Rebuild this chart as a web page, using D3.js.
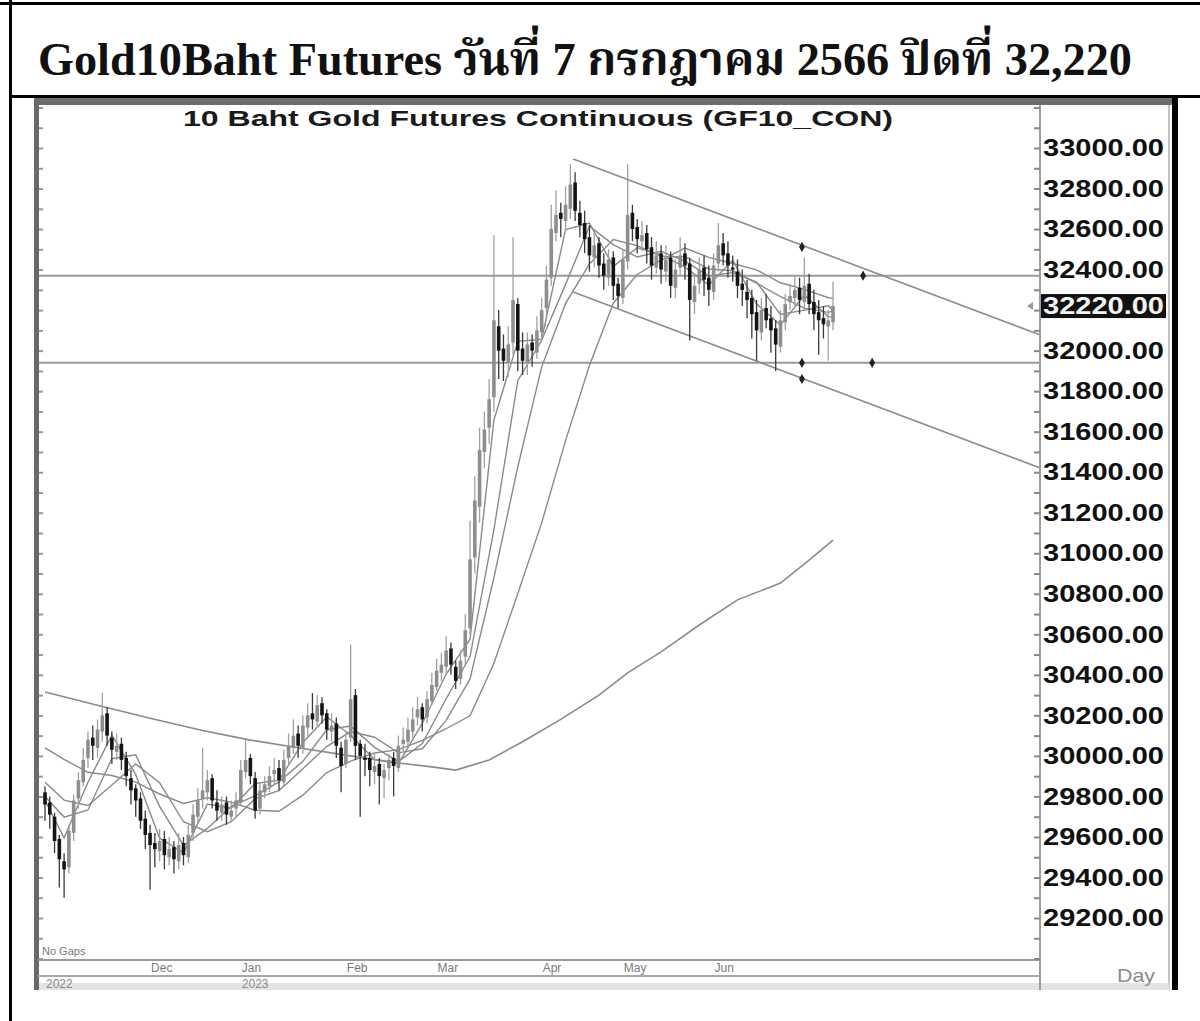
<!DOCTYPE html>
<html><head><meta charset="utf-8">
<script src="https://cdn.jsdelivr.net/npm/d3@7"></script>
<style>html,body{margin:0;padding:0;background:#fff;} svg{display:block}</style>
</head><body>
<script>
const titleText = "Gold10Baht Futures วันที่ 7 กรกฎาคม 2566 ปิดที่ 32,220";
const chartTitle = "10 Baht Gold Futures Continuous (GF10_CON)";

const closes = [29760,29710,29580,29490,29440,29630,29780,29880,29980,30080,
30050,30130,30200,30100,30030,30050,29980,29900,29830,29780,
29680,29610,29560,29540,29580,29510,29540,29490,29560,29510,
29610,29710,29780,29830,29880,29780,29730,29760,29710,29730,
29780,29930,29980,29900,29730,29830,29860,29900,29930,29880,
29980,30050,30100,30050,30150,30200,30180,30250,30200,30130,
30150,30050,29950,30080,30280,30050,30000,29980,29930,29950,
29900,29930,29980,29950,30050,30080,30130,30180,30230,30180,
30280,30350,30420,30450,30520,30450,30370,30470,30620,30970,
31260,31510,31610,31760,32150,32000,31950,32030,32250,32000,
31950,32030,32000,32100,32200,32350,32600,32670,32650,32720,
32820,32690,32620,32550,32470,32520,32420,32370,32450,32320,
32270,32450,32670,32600,32550,32570,32500,32420,32470,32400,
32450,32320,32400,32470,32420,32250,32320,32400,32350,32300,
32420,32520,32470,32420,32400,32320,32300,32250,32180,32100,
32200,32150,32100,32030,32150,32230,32270,32300,32250,32320,
32230,32180,32150,32130,32150,32220];

const opens = [29820,29770,29700,29590,29480,29450,29620,29790,29870,29990,
30090,30040,30120,30210,30090,30020,30060,29990,29890,29840,
29790,29690,29620,29570,29530,29590,29500,29550,29480,29570,
29500,29620,29700,29790,29820,29890,29770,29720,29770,29700,
29740,29770,29920,29990,29890,29740,29820,29850,29910,29940,
29870,29990,30040,30110,30040,30140,30210,30170,30260,30210,
30120,30160,30040,29960,30090,30300,30060,29990,29990,29920,
29960,29890,29940,29990,29940,30060,30070,30120,30190,30240,
30190,30270,30340,30410,30440,30530,30440,30380,30490,30630,
30980,31230,31500,31620,31770,32120,32010,31940,32040,32230,
32010,31940,32040,31990,32090,32210,32360,32580,32680,32640,
32700,32830,32680,32630,32560,32460,32530,32430,32360,32460,
32330,32260,32440,32680,32610,32540,32580,32510,32410,32480,
32390,32460,32310,32410,32480,32430,32240,32330,32410,32360,
32290,32430,32530,32480,32410,32390,32330,32290,32260,32190,
32090,32210,32160,32110,32020,32140,32240,32260,32310,32240,
32330,32240,32190,32160,32120,32140];

const highs = [29850,29800,29720,29610,29520,29660,29810,29920,30040,30120,
30150,30180,30310,30240,30120,30110,30090,30020,29930,29860,
29820,29730,29660,29620,29640,29630,29600,29580,29620,29600,
29660,29760,29840,30040,29930,29910,29830,29800,29800,29780,
29820,29980,30080,30010,29920,29870,29900,29950,29990,29980,
30030,30110,30180,30150,30200,30260,30310,30300,30290,30230,
30210,30190,30070,30120,30550,30330,30080,30060,30020,30010,
29990,29960,30010,30020,30100,30140,30190,30240,30290,30260,
30320,30410,30480,30510,30590,30560,30470,30520,30700,31160,
31380,31620,31700,31860,32570,32200,32080,32120,32560,32260,
32090,32090,32080,32170,32260,32420,32720,32790,32730,32810,
32920,32880,32740,32690,32620,32590,32560,32480,32500,32490,
32360,32500,32920,32720,32650,32640,32620,32560,32540,32520,
32520,32490,32450,32560,32530,32460,32380,32460,32470,32420,
32480,32630,32580,32540,32470,32450,32400,32350,32300,32250,
32260,32280,32220,32150,32200,32280,32330,32370,32360,32460,
32380,32300,32250,32220,32200,32340];

const lows = [29680,29640,29520,29350,29300,29420,29580,29740,29850,29940,
29980,29990,30070,30050,29960,29980,29930,29850,29760,29700,
29640,29540,29340,29450,29480,29440,29460,29420,29440,29460,
29470,29580,29660,29740,29780,29740,29680,29680,29660,29680,
29700,29750,29890,29860,29690,29710,29790,29820,29860,29830,
29850,29960,30010,29990,30010,30100,30130,30140,30160,30080,
30070,29990,29820,29940,30070,29980,29700,29900,29850,29860,
29760,29790,29880,29800,29920,30020,30050,30090,30150,30120,
30160,30250,30320,30370,30410,30400,30330,30350,30450,30600,
30900,31150,31420,31540,31700,31860,31850,31870,31980,31900,
31880,31880,31920,31960,32050,32150,32320,32540,32560,32590,
32650,32640,32560,32480,32390,32410,32360,32300,32320,32250,
32210,32230,32400,32540,32480,32490,32430,32350,32380,32330,
32340,32260,32260,32370,32350,32050,32180,32280,32270,32220,
32250,32390,32420,32360,32340,32260,32220,32160,32060,31950,
32050,32110,31990,31900,31990,32100,32200,32220,32180,32200,
32180,32100,31980,32060,31950,32100];

const maIdx = [0,4,9,14,19,24,29,34,39,44,49,54,59,64,69,74,79,84,89,94,99,104,109,114,119,124,129,134,139,144,149,154,159,164,165];
const ma5 = [29780,29596,29870,30102,29908,29594,29522,29762,29742,29864,29880,30066,30192,30102,29982,29962,30160,30404,30576,31658,32046,32056,32598,32630,32416,32508,32472,32412,32324,32446,32230,32126,32274,32168,32166];
const ma10 = [29800,29698,29733,29986,30005,29751,29558,29642,29752,29803,29872,29973,30129,30147,30042,29972,30061,30282,30490,31117,31852,32051,32327,32614,32523,32462,32490,32442,32368,32385,32338,32178,32200,32221,32200];
const ma15 = [29870,29782,29755,29856,29960,29868,29675,29626,29675,29789,29829,29937,30046,30120,30092,30015,30035,30175,30380,30879,31427,31920,32233,32428,32548,32518,32465,32464,32403,32394,32333,32267,32210,32189,32195];
const ma30 = [30040,29983,29919,29903,29871,29812,29765,29793,29772,29732,29727,29806,29918,29974,30014,30031,30077,30134,30198,30457,30801,31150,31556,31927,32234,32376,32447,32506,32460,32430,32399,32335,32302,32261,32258];
const maLongIdx = [0,11,22,33,43,53,64,74,81,86,93,100,108,116,122,129,137,145,154,160,165];
const maLong = [30315,30250,30186,30125,30078,30040,30000,29965,29946,29930,29980,30070,30180,30300,30410,30513,30646,30770,30853,30966,31065];

const yTicks = [33000,32800,32600,32400,32000,31800,31600,31400,31200,31000,30800,30600,30400,30200,30000,29800,29600,29400,29200];
const lastPrice = 32220;
const monthLabels = ["Dec","Jan","Feb","Mar","Apr","May","Jun"];
const monthIdx = [22,41,63,82,104,121,140];
const yearLabels = ["2022","2023"];
const yearIdx = [0,41];
const levels = [32370, 31940];
const channelUpper = [[110.6,32946],[208.4,32077]];
const channelLower = [[110.6,32289],[208.4,31421]];
const pivots = [[158.5,32512],[171.3,32370],[158.5,31940],[173.2,31940],[158.5,31860]];

const W = 1200, H = 1021;
const plot = {l:38, r:1040, t:105, b:960};

const svg = d3.select("body").append("svg").attr("width", W).attr("height", H)
  .style("font-family", "Arial, 'Liberation Sans', sans-serif");
svg.append("rect").attr("width", W).attr("height", H).attr("fill", "#fff");

const x = d3.scaleLinear().domain([0, 165]).range([45, 833]);
const y = d3.scaleLinear().domain([33000, 29200]).range([148, 918]);

// frame
svg.append("rect").attr("x", 0).attr("y", 2).attr("width", W).attr("height", 3).attr("fill", "#000");
svg.append("rect").attr("x", 9).attr("y", 0).attr("width", 3).attr("height", H).attr("fill", "#000");
svg.append("rect").attr("x", 9).attr("y", 95).attr("width", W - 9).attr("height", 3).attr("fill", "#000");

// title
svg.append("text").attr("x", 38).attr("y", 75)
  .attr("font-family", "'Liberation Serif', 'Times New Roman', 'Noto Serif Thai', serif")
  .attr("font-weight", "bold").attr("font-size", 47)
  .attr("textLength", 1094).attr("lengthAdjust", "spacingAndGlyphs")
  .attr("fill", "#111").text(titleText);

// chart panel
svg.append("rect").attr("x", 34).attr("y", 98).attr("width", 1138).attr("height", 7).attr("fill", "#6e6e6e");
svg.append("rect").attr("x", 34).attr("y", 98).attr("width", 5).attr("height", 892).attr("fill", "#6a6a6a");
svg.append("rect").attr("x", 1172).attr("y", 97).attr("width", 6).attr("height", 893).attr("fill", "#000");
svg.append("line").attr("x1", 1169).attr("x2", 1169).attr("y1", 105).attr("y2", 990).attr("stroke", "#c4c4c4").attr("stroke-width", 2);
svg.append("rect").attr("x", 39).attr("y", 983).attr("width", 1130).attr("height", 7).attr("fill", "#e4e4e4");

svg.append("text").attr("x", 538).attr("y", 126).attr("text-anchor", "middle")
  .attr("font-weight", "bold").attr("font-size", 22).attr("fill", "#1a1a1a")
  .attr("textLength", 710).attr("lengthAdjust", "spacingAndGlyphs").text(chartTitle);

// clip
svg.append("clipPath").attr("id", "clip").append("rect")
  .attr("x", plot.l + 1).attr("y", plot.t).attr("width", plot.r - plot.l - 1).attr("height", plot.b - plot.t);
const g = svg.append("g").attr("clip-path", "url(#clip)");

// horizontal levels
g.selectAll(".lvl").data(levels).join("line")
  .attr("x1", plot.l).attr("x2", plot.r).attr("y1", d => y(d)).attr("y2", d => y(d))
  .attr("stroke", "#9a9a9a").attr("stroke-width", 2);

// channel lines
const lineXY = d3.line().x(d => x(d[0])).y(d => y(d[1]));
[channelUpper, channelLower].forEach(c => {
  g.append("path").attr("d", lineXY(c)).attr("fill", "none").attr("stroke", "#8c8c8c").attr("stroke-width", 1.6);
});

// moving averages
const maLine = d3.line().x(d => x(d[0])).y(d => y(d[1]));
[ma30, ma15, ma10, ma5].forEach((s, k) => {
  g.append("path").attr("d", maLine(maIdx.map((d, i) => [d, s[i]])))
    .attr("fill", "none").attr("stroke", "#8a8a8a").attr("stroke-width", 1.4);
});
g.append("path").attr("d", maLine(maLongIdx.map((d, i) => [d, maLong[i]])))
  .attr("fill", "none").attr("stroke", "#8a8a8a").attr("stroke-width", 1.6);

// candles
const bars = closes.map((c, i) => ({i, o: opens[i], h: highs[i], l: lows[i], c}));
const bw = 3.6;
g.selectAll(".wick").data(bars).join("line")
  .attr("x1", d => x(d.i)).attr("x2", d => x(d.i))
  .attr("y1", d => y(d.h)).attr("y2", d => y(d.l))
  .attr("stroke", d => d.c >= d.o ? "#a0a0a0" : "#3a3a3a").attr("stroke-width", 1.3);
g.selectAll(".body").data(bars).join("rect")
  .attr("x", d => x(d.i) - bw / 2).attr("width", bw)
  .attr("y", d => y(Math.max(d.o, d.c)))
  .attr("height", d => Math.max(1.5, Math.abs(y(d.o) - y(d.c))))
  .attr("fill", d => d.c >= d.o ? "#8e8e8e" : "#141414");

// pivot markers
g.selectAll(".pv").data(pivots).join("path")
  .attr("transform", d => `translate(${x(d[0])},${y(d[1])})`)
  .attr("d", d3.symbol(d3.symbolDiamond, 30)).attr("fill", "#222");

// last price marker
svg.append("path").attr("d", `M${1027},${y(lastPrice)} l6,-4 l0,8 z`).attr("fill", "#999");

// bottom lines
svg.append("line").attr("x1", plot.l).attr("x2", plot.r).attr("y1", 960).attr("y2", 960).attr("stroke", "#9a9a9a").attr("stroke-width", 2);
svg.append("line").attr("x1", plot.l).attr("x2", plot.r).attr("y1", 976).attr("y2", 976).attr("stroke", "#a8a8a8").attr("stroke-width", 2);
svg.append("line").attr("x1", plot.r).attr("x2", plot.r).attr("y1", plot.t).attr("y2", 990).attr("stroke", "#9c9c9c").attr("stroke-width", 2);

svg.append("text").attr("x", 42).attr("y", 955).attr("font-size", 11).attr("fill", "#777").text("No Gaps");

svg.selectAll(".mon").data(monthLabels).join("text")
  .attr("x", (d, i) => x(monthIdx[i]) + 1).attr("y", 972)
  .attr("font-size", 12).attr("fill", "#7a7a7a").text(d => d);
svg.selectAll(".yr").data(yearLabels).join("text")
  .attr("x", (d, i) => x(yearIdx[i]) + 1).attr("y", 988)
  .attr("font-size", 12).attr("fill", "#8a8a8a").text(d => d);
svg.append("text").attr("x", 1117).attr("y", 982).attr("font-size", 19).attr("fill", "#8a8a8a")
  .attr("textLength", 38).attr("lengthAdjust", "spacingAndGlyphs").text("Day");

// minor ticks on axis and left border
const minor = d3.range(29000, 33201, 100);
const axMinor = d3.axisLeft(y).tickValues(minor).tickSize(6).tickFormat("");
const ga = svg.append("g").attr("transform", `translate(${plot.r},0)`).call(axMinor);
ga.select(".domain").remove();
ga.selectAll("line").attr("stroke", "#888").attr("stroke-width", 2);
const axLeft = d3.axisRight(y).tickValues(minor).tickSize(4).tickFormat("");
const gl = svg.append("g").attr("transform", `translate(39,0)`).call(axLeft);
gl.select(".domain").remove();
gl.selectAll("line").attr("stroke", "#999").attr("stroke-width", 2);

// price labels
const ay = d3.axisRight(y).tickValues(yTicks).tickSize(0).tickPadding(0).tickFormat(d3.format(".2f"));
const gy = svg.append("g").attr("transform", `translate(1043,0)`).call(ay);
gy.select(".domain").remove();
gy.selectAll("text").attr("font-size", 24).attr("font-weight", "bold").attr("fill", "#111")
  .attr("font-family", "Arial, 'Liberation Sans', sans-serif")
  .attr("textLength", 121).attr("lengthAdjust", "spacingAndGlyphs");

// last price box
svg.append("rect").attr("x", 1041).attr("y", y(lastPrice) - 12).attr("width", 125).attr("height", 24).attr("fill", "#111");
svg.append("text").attr("x", 1043).attr("y", y(lastPrice)).attr("dy", "0.35em")
  .attr("font-size", 24).attr("font-weight", "bold").attr("fill", "#f2f2f2")
  .attr("textLength", 121).attr("lengthAdjust", "spacingAndGlyphs").text(d3.format(".2f")(lastPrice));
</script>
</body></html>
